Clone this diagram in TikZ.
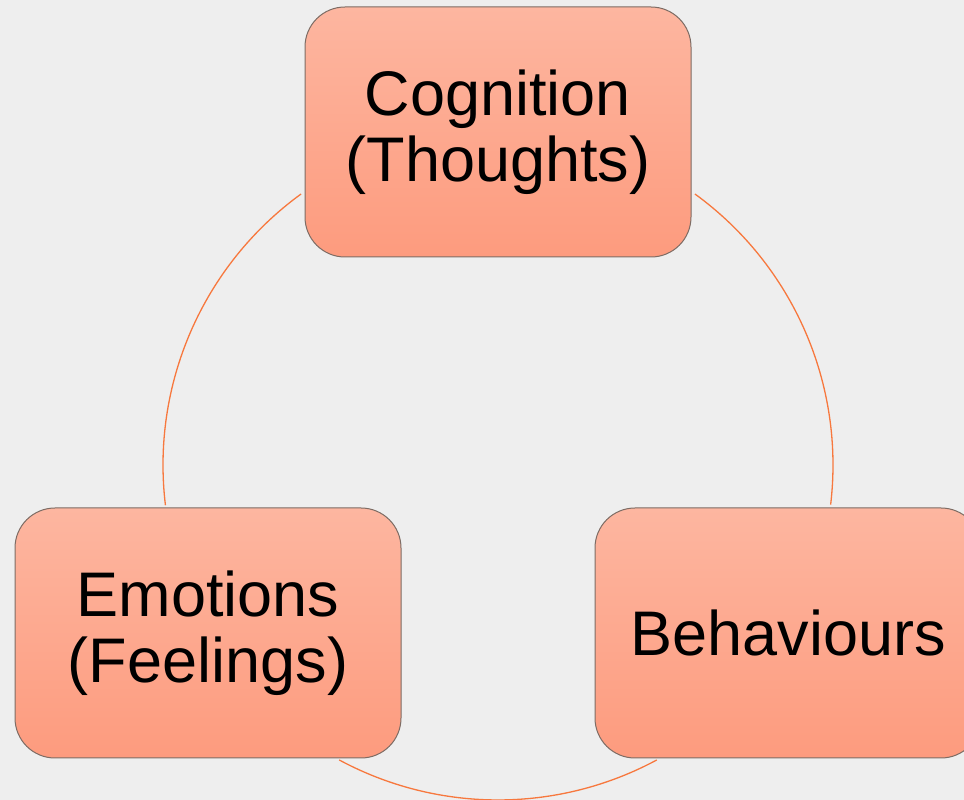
\documentclass[tikz,border=0pt]{standalone}
\usepackage{fontspec}
\setmainfont{Liberation Sans}
\definecolor{bg}{RGB}{238,238,238}
\definecolor{boxtop}{RGB}{253,182,160}
\definecolor{boxbot}{RGB}{253,155,126}
\definecolor{boxedge}{RGB}{125,108,100}
\definecolor{arccol}{RGB}{247,120,62}
\begin{document}
\begin{tikzpicture}[x=1pt,y=1pt,
  box/.style={draw=boxedge, line width=1pt, rounded corners=40pt,
    top color=boxtop, bottom color=boxbot,
    minimum width=386pt, minimum height=250pt, inner sep=0pt,
    align=center, font=\fontsize{63}{66}\selectfont},
  cyc/.style={draw=arccol, line width=1.3pt}]
\fill[bg] (0,0) rectangle (964,800);
\useasboundingbox (0,0) rectangle (964,800);
\clip (0,0) rectangle (964,800);
\coordinate (ctr) at (498,335);
\draw[cyc] (ctr) ++(-6.8:335pt) arc[start angle=-6.8, end angle=54, radius=335pt];
\draw[cyc] (ctr) ++(126:335pt) arc[start angle=126, end angle=186.9, radius=335pt];
\draw[cyc] (ctr) ++(241.7:335pt) arc[start angle=241.7, end angle=298.3, radius=335pt];
\node[box] (cog) at (498,668) {Cognition\\(Thoughts)};
\node[box] (emo) at (208,167) {Emotions\\(Feelings)};
\node[box] (beh) at (788,167) {Behaviours};
\end{tikzpicture}
\end{document}
